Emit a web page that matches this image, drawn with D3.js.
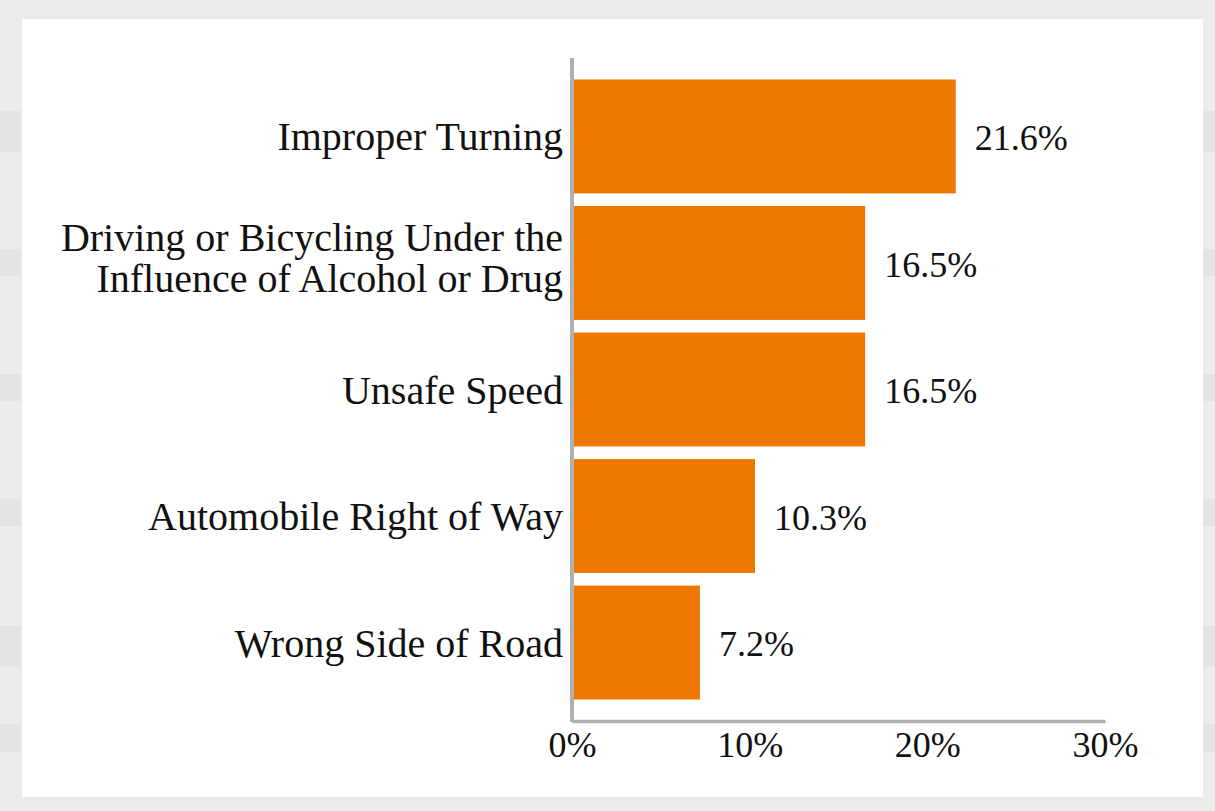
<!DOCTYPE html>
<html>
<head>
<meta charset="utf-8">
<script src="https://cdn.jsdelivr.net/npm/d3@7"></script>
<style>
  html, body { margin: 0; padding: 0; background: #ececec; }
  svg { display: block; }
</style>
</head>
<body>
<script>
// data
const categories = [
  'Improper Turning',
  'Driving or Bicycling Under the\nInfluence of Alcohol or Drug',
  'Unsafe Speed',
  'Automobile Right of Way',
  'Wrong Side of Road'
];
const values = [21.6, 16.5, 16.5, 10.3, 7.2];
const tickValues = [0, 10, 20, 30];

const W = 1215, H = 811;
const font = '"Liberation Serif", "Times New Roman", serif';

const svg = d3.select('body').append('svg')
    .attr('width', W)
    .attr('height', H);

// page frame: grey surround, faint row stripes at the edges, white panel
svg.append('rect')
    .attr('width', W).attr('height', H)
    .attr('fill', '#ececec');

const stripes = [[111, 152], [249, 276], [374, 401], [499, 526], [626, 667], [724, 752]];
svg.selectAll('.stripe')
    .data(stripes.flatMap(s => [[0, s], [1203, s]]))
    .enter().append('rect')
    .attr('x', d => d[0])
    .attr('y', d => d[1][0])
    .attr('width', d => d[0] === 0 ? 21 : 12)
    .attr('height', d => d[1][1] - d[1][0])
    .attr('fill', '#e3e3e3');

svg.append('rect')
    .attr('x', 22).attr('y', 19)
    .attr('width', 1181).attr('height', 778)
    .attr('fill', '#fff');

// scales
const x = d3.scaleLinear().domain([0, 30]).range([572, 1105]);
const y = d3.scaleBand()
    .domain(categories)
    .range([58, 721])
    .paddingInner(0.1)
    .paddingOuter(0.17);

// bars
svg.selectAll('.bar')
    .data(values)
    .enter().append('rect')
    .attr('class', 'bar')
    .attr('x', x(0))
    .attr('y', (d, i) => y(categories[i]))
    .attr('width', d => x(d) - x(0))
    .attr('height', y.bandwidth())
    .attr('fill', '#ee7700');

// value labels
svg.selectAll('.val')
    .data(values)
    .enter().append('text')
    .attr('x', d => x(d) + 19)
    .attr('y', (d, i) => y(categories[i]) + y.bandwidth() / 2)
    .attr('dy', '0.38em')
    .attr('font-family', font)
    .attr('font-size', 36)
    .attr('fill', '#111')
    .text(d => d.toFixed(1) + '%');

// category labels (right aligned next to the axis)
const cat = svg.selectAll('.cat')
    .data(categories)
    .enter().append('text')
    .attr('font-family', font)
    .attr('font-size', 40)
    .attr('fill', '#111')
    .attr('text-anchor', 'end');

cat.each(function (d) {
  const lines = d.split('\n');
  const cy = y(d) + y.bandwidth() / 2;
  const lh = 41;
  d3.select(this).selectAll('tspan')
      .data(lines)
      .enter().append('tspan')
      .attr('x', x(0) - 9)
      .attr('y', (l, j) => cy + (j - (lines.length - 1) / 2) * lh + 14 - (lines.length > 1 ? 5 : 0))
      .text(l => l);
});

// x axis
const xAxis = svg.append('g')
    .attr('transform', 'translate(0,721)')
    .call(d3.axisBottom(x).tickValues(tickValues).tickSize(0).tickPadding(9)
      .tickFormat(d => d + '%'));
xAxis.select('.domain').attr('stroke', '#b0b0b0').attr('stroke-width', 3.5);
xAxis.selectAll('text')
    .attr('font-family', font)
    .attr('font-size', 36)
    .attr('fill', '#111')
    .attr('dy', '0.75em');

// y axis line
svg.append('line')
    .attr('x1', x(0)).attr('x2', x(0))
    .attr('y1', 58).attr('y2', 722)
    .attr('stroke', '#b0b0b0')
    .attr('stroke-width', 4);
</script>
</body>
</html>
